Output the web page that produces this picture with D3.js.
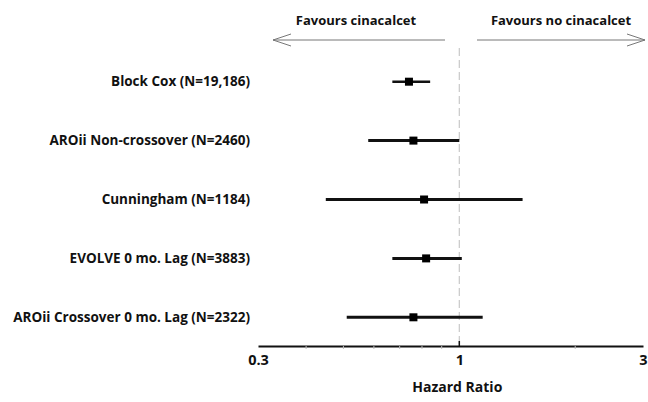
<!DOCTYPE html>
<html><head><meta charset="utf-8">
<script src="https://cdn.jsdelivr.net/npm/d3@7"></script>
<style>body{margin:0;background:#fff}svg{display:block}text{font-family:"Open Sans",Lato,sans-serif;font-weight:bold;fill:#111}</style>
</head><body>
<script>
const studies = ["Block Cox (N=19,186)","AROii Non-crossover (N=2460)","Cunningham (N=1184)","EVOLVE 0 mo. Lag (N=3883)","AROii Crossover 0 mo. Lag (N=2322)"];
const hr    = [0.74, 0.76, 0.81, 0.82, 0.76];
const lower = [0.67, 0.58, 0.45, 0.67, 0.51];
const upper = [0.84, 1.00, 1.46, 1.015, 1.15];
const majorTicks = [0.3, 1, 3];
const minorTicks = [0.4,0.5,0.6,0.7,0.8,0.9,2];
const leftLabel = "Favours cinacalcet", rightLabel = "Favours no cinacalcet", xTitle = "Hazard Ratio";

const W=648,H=402;
const svg=d3.select("body").append("svg").attr("width",W).attr("height",H);
const x=d3.scaleLog().domain([0.3,3]).range([258,643]);
const y=d3.scalePoint().domain(studies).range([81.7,317.3]);
const axisY=346;

// dashed reference line
svg.append("line").attr("x1",x(1)).attr("x2",x(1)).attr("y1",48).attr("y2",axisY)
  .attr("stroke","#c8c8c8").attr("stroke-width",1.2).attr("stroke-dasharray","8,4");

// axis
const ax=svg.append("g").attr("transform",`translate(0,${axisY})`)
  .call(d3.axisBottom(x).tickValues(majorTicks).tickSize(0).tickPadding(9).tickFormat(d3.format("")));
ax.select(".domain").attr("stroke","#111").attr("stroke-width",2);
ax.selectAll("text").style("font-size","14.5px").style("font-family","Open Sans").style("font-weight","bold").attr("fill","#111");
svg.append("g").selectAll("line").data(minorTicks).join("line")
  .attr("x1",d=>x(d)).attr("x2",d=>x(d)).attr("y1",axisY).attr("y2",axisY+3).attr("stroke","#bbb").attr("stroke-width",1);
svg.append("line").attr("x1",x(1)).attr("x2",x(1)).attr("y1",axisY-5).attr("y2",axisY).attr("stroke","#111").attr("stroke-width",1.5);

svg.append("text").attr("x",x(1)-2).attr("y",392).attr("text-anchor","middle").style("font-size","14px").text(xTitle);

// header
svg.append("text").attr("x",356).attr("y",25).attr("text-anchor","middle").style("font-size","13px").text(leftLabel);
svg.append("text").attr("x",561).attr("y",25).attr("text-anchor","middle").style("font-size","13px").text(rightLabel);
const ar=svg.append("g").attr("stroke","#777").attr("stroke-width",1).attr("fill","none");
ar.append("line").attr("x1",445).attr("x2",273).attr("y1",40).attr("y2",40);
ar.append("polyline").attr("points","291,34 273,40 291,46");
ar.append("line").attr("x1",477).attr("x2",645).attr("y1",40).attr("y2",40);
ar.append("polyline").attr("points","627,34 645,40 627,46");

// rows
const g=svg.append("g");
g.selectAll("text.lab").data(studies).join("text").attr("class","lab")
  .attr("x",250).attr("y",d=>y(d)).attr("dy","0.35em").attr("text-anchor","end").style("font-size","13.5px").text(d=>d);
g.selectAll("line.ci").data(studies).join("line").attr("class","ci")
  .attr("x1",(d,i)=>x(lower[i])).attr("x2",(d,i)=>x(upper[i])).attr("y1",d=>y(d)).attr("y2",d=>y(d))
  .attr("stroke","#111").attr("stroke-width",(d,i)=>i===0?2.5:3);
g.selectAll("rect.pt").data(studies).join("rect").attr("class","pt")
  .attr("x",(d,i)=>x(hr[i])-4).attr("y",d=>y(d)-4).attr("width",8).attr("height",8).attr("fill","#000");
</script>
</body></html>
